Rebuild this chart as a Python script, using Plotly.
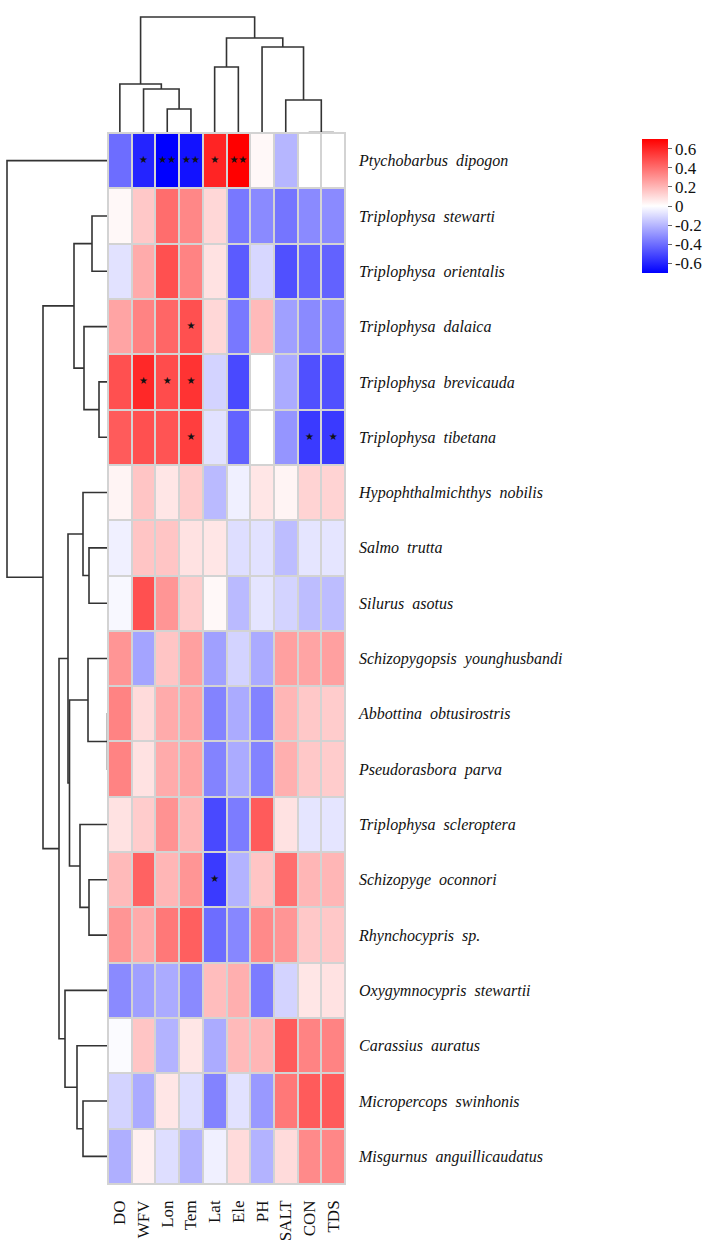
import plotly.graph_objects as go

# ---------------- data ----------------
species = [
    "Ptychobarbus dipogon", "Triplophysa stewarti", "Triplophysa orientalis",
    "Triplophysa dalaica", "Triplophysa brevicauda", "Triplophysa tibetana",
    "Hypophthalmichthys nobilis", "Salmo trutta", "Silurus asotus",
    "Schizopygopsis younghusbandi", "Abbottina obtusirostris", "Pseudorasbora parva",
    "Triplophysa scleroptera", "Schizopyge oconnori", "Rhynchocypris sp.",
    "Oxygymnocypris stewartii", "Carassius auratus", "Micropercops swinhonis",
    "Misgurnus anguillicaudatus",
]
variables = ["DO", "WFV", "Lon", "Tem", "Lat", "Ele", "PH", "SALT", "CON", "TDS"]

corr = [
    [-0.40, -0.60, -0.70, -0.65, 0.60, 0.70, 0.02, -0.20, 0.00, 0.00],
    [0.02, 0.15, 0.40, 0.33, 0.11, -0.37, -0.32, -0.38, -0.32, -0.32],
    [-0.08, 0.23, 0.48, 0.34, 0.08, -0.45, -0.11, -0.48, -0.43, -0.43],
    [0.25, 0.34, 0.42, 0.48, 0.11, -0.37, 0.19, -0.26, -0.32, -0.32],
    [0.48, 0.59, 0.49, 0.56, -0.12, -0.50, 0.00, -0.23, -0.48, -0.48],
    [0.45, 0.48, 0.47, 0.53, -0.08, -0.43, 0.00, -0.29, -0.54, -0.54],
    [0.03, 0.16, 0.07, 0.14, -0.19, -0.04, 0.07, 0.03, 0.12, 0.12],
    [-0.04, 0.16, 0.16, 0.08, 0.07, -0.09, -0.08, -0.18, -0.07, -0.07],
    [-0.02, 0.48, 0.29, 0.14, 0.02, -0.19, -0.07, -0.12, -0.18, -0.18],
    [0.29, -0.25, 0.16, 0.26, -0.26, -0.12, -0.23, 0.26, 0.25, 0.26],
    [0.34, 0.10, 0.23, 0.25, -0.34, -0.23, -0.34, 0.20, 0.15, 0.14],
    [0.34, 0.08, 0.23, 0.25, -0.34, -0.23, -0.34, 0.22, 0.15, 0.14],
    [0.08, 0.14, 0.30, 0.20, -0.50, -0.36, 0.45, 0.08, -0.07, -0.07],
    [0.19, 0.43, 0.20, 0.29, -0.54, -0.21, 0.16, 0.40, 0.20, 0.20],
    [0.29, 0.23, 0.37, 0.44, -0.40, -0.33, 0.32, 0.29, 0.15, 0.15],
    [-0.32, -0.26, -0.23, -0.32, 0.18, 0.22, -0.36, -0.12, 0.07, 0.08],
    [-0.01, 0.16, -0.21, 0.07, -0.23, 0.19, 0.20, 0.45, 0.34, 0.34],
    [-0.12, -0.23, 0.07, -0.09, -0.34, -0.08, -0.28, 0.37, 0.45, 0.45],
    [-0.22, 0.04, -0.09, -0.21, -0.04, 0.10, -0.21, 0.10, 0.32, 0.33],
]

# significance marks
sig_rows = [0, 0, 0, 0, 0, 3, 4, 4, 4, 5, 5, 5, 13]
sig_cols = [1, 2, 3, 4, 5, 3, 1, 2, 3, 3, 8, 9, 4]
sig_text = ["*", "**", "**", "*", "**", "*", "*", "*", "*", "*", "*", "*", "*"]

# dendrograms: [merge height, left, right]; ints are leaf indices
row_tree = [101, 0,
            [65,
             [34, [16, 1, 2], [24, 3, [9, 4, 5]]],
             [49,
              [40, [25, 6, [19, 7, 8]],
               [38.5, [20, 9, [0.5, 10, 11]], [28, 12, [19, 13, 14]]]],
              [43, 15, [31, 16, [25, 17, 18]]]]]]
col_tree = [116,
            [49, 0, [44, 1, [24, 2, 3]]],
            [95, [66, 4, 5], [86, 6, [33, 7, [0.5, 8, 9]]]]]

cbar_ticks = [0.6, 0.4, 0.2, 0, -0.2, -0.4, -0.6]
cbar_labels = ["0.6", "0.4", "0.2", "0", "-0.2", "-0.4", "-0.6"]

# ---------------- layout geometry ----------------
W, H = 709, 1243
HX0, HX1 = 108, 345      # heatmap left/right (px)
HY0, HY1 = 133, 1184     # heatmap top/bottom (px)
FONT = "Liberation Serif"


def fx(p):
    return p / W


def fy(p):
    return 1 - p / H


def dendro(node, pos_list, hgt_list):
    if isinstance(node, int):
        return float(node), 0.0
    h, left, right = node
    pl, hl = dendro(left, pos_list, hgt_list)
    pr, hr = dendro(right, pos_list, hgt_list)
    pos_list += [pl, pl, pr, pr, None]
    hgt_list += [hl, h, h, hr, None]
    return (pl + pr) / 2, h


rp, rh = [], []
dendro(row_tree, rp, rh)
cp, ch = [], []
dendro(col_tree, cp, ch)

nr, nc = len(species), len(variables)
xs = list(range(nc))
ys = list(range(nr))

fig = go.Figure()

fig.add_trace(go.Heatmap(
    z=corr, x=xs, y=ys,
    colorscale=[[0, "#0000ff"], [0.5, "#ffffff"], [1, "#ff0000"]],
    zmin=-0.7, zmax=0.7, xgap=2, ygap=2,
    xaxis="x", yaxis="y",
    colorbar=dict(
        x=fx(642), xanchor="left", y=fy(139), yanchor="top",
        xpad=0, ypad=0,
        len=134, lenmode="pixels", thickness=26, thicknessmode="pixels",
        outlinewidth=0, tickvals=cbar_ticks, ticktext=cbar_labels,
        ticks="outside", ticklen=4, tickcolor="#666",
        tickfont=dict(family=FONT, size=17, color="#111"),
    ),
    hoverinfo="skip",
))

fig.add_trace(go.Scatter(
    x=sig_cols, y=sig_rows,
    text=[t.replace("*", "\u2605") for t in sig_text],
    mode="text", textfont=dict(family="DejaVu Sans", size=10, color="#111"),
    xaxis="x", yaxis="y", hoverinfo="skip", showlegend=False,
))

fig.add_trace(go.Scatter(
    x=cp, y=ch, mode="lines", line=dict(color="#333", width=1.6),
    xaxis="x2", yaxis="y2", hoverinfo="skip", showlegend=False,
))
fig.add_trace(go.Scatter(
    x=rh, y=rp, mode="lines", line=dict(color="#333", width=1.6),
    xaxis="x3", yaxis="y3", hoverinfo="skip", showlegend=False,
))

hide = dict(visible=False, showgrid=False, zeroline=False)

fig.update_layout(
    width=W, height=H, autosize=False,
    margin=dict(l=0, r=0, t=0, b=0),
    paper_bgcolor="white", plot_bgcolor="white",
    showlegend=False,
    xaxis=dict(domain=[fx(HX0), fx(HX1)], range=[-0.5, nc - 0.5],
               tickvals=xs, ticktext=variables, tickangle=-90, side="bottom",
               ticks="", showgrid=False, zeroline=False, showline=False,
               ticklabelstandoff=12,
               tickfont=dict(family=FONT, size=17, color="#111"), anchor="y"),
    yaxis=dict(domain=[fy(HY1), fy(HY0)], range=[nr - 0.5, -0.5],
               tickvals=ys, ticktext=[s.replace(" ", " \u00a0") for s in species],
               side="right", ticks="", showgrid=False, zeroline=False,
               showline=False, ticklabelstandoff=13,
               tickfont=dict(family=FONT, size=16, color="#111", style="italic"),
               anchor="x"),
    xaxis2=dict(domain=[fx(HX0), fx(HX1)], range=[-0.5, nc - 0.5], anchor="y2", **hide),
    yaxis2=dict(domain=[fy(HY0), fy(15)], range=[0, HY0 - 15], anchor="x2", **hide),
    xaxis3=dict(domain=[0, fx(HX0)], range=[HX0, 0], anchor="y3", **hide),
    yaxis3=dict(domain=[fy(HY1), fy(HY0)], range=[nr - 0.5, -0.5], anchor="x3", **hide),
    shapes=[dict(type="rect", xref="x domain", yref="y domain", x0=0, x1=1, y0=0, y1=1,
                 fillcolor="#d3d3d3", line=dict(color="#d3d3d3", width=2), layer="below"),
            dict(type="rect", xref="x domain", yref="y domain", x0=0, x1=1, y0=0, y1=1,
                 fillcolor="rgba(0,0,0,0)", line=dict(color="#d3d3d3", width=2), layer="above")],
)

fig.write_html("out.html")
